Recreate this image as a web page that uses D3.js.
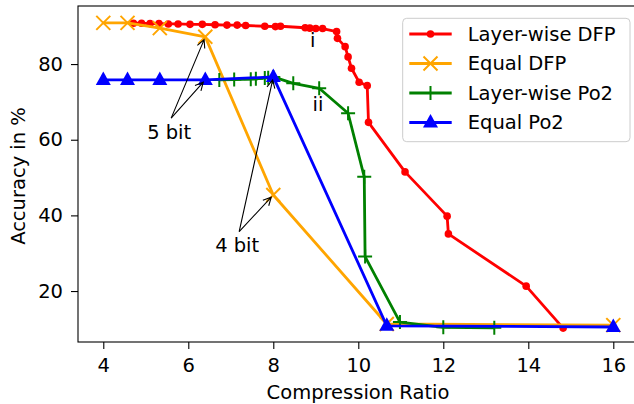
<!DOCTYPE html>
<html>
<head>
<meta charset="utf-8">
<script src="https://cdn.jsdelivr.net/npm/d3@7"></script>
<style>
  body { margin: 0; background: #fff; }
  text { font-family: "DejaVu Sans", sans-serif; fill: #000; }
</style>
</head>
<body>
<div id="chart"></div>
<script>
// compression ratios shared by the "Equal" runs
const equalRatio = [4, 4.57, 5.33, 6.4, 8, 10.67, 16];
const equalDfpAcc = [90.9, 90.9, 89.5, 87.2, 45.4, 11.3, 11.0];
const equalPo2Acc = [75.8, 75.8, 75.8, 75.8, 76.6, 10.8, 10.5];

const layerDfpRatio = [4.71, 4.90, 5.10, 5.31, 5.53, 5.76, 6.04, 6.33, 6.63, 6.91, 7.15, 7.35, 7.80, 8.05, 8.17,
  8.75, 8.86, 9.00, 9.16, 9.49, 9.51, 9.69, 9.76, 9.84, 10.02, 10.21, 10.24, 11.10, 12.09, 12.12, 13.95, 14.82];
const layerDfpAcc = [90.8, 90.8, 90.7, 90.7, 90.6, 90.6, 90.5, 90.5, 90.4, 90.3, 90.3, 90.2, 90.0, 89.9, 90.0,
  89.6, 89.5, 89.4, 89.4, 88.6, 86.8, 84.6, 81.9, 78.9, 75.2, 74.3, 64.6, 51.5, 39.8, 35.1, 21.3, 10.2];

const layerPo2Ratio = [6.73, 7.08, 7.47, 7.59, 7.80, 7.88, 8.0, 8.47, 9.08, 9.76, 10.14, 10.16, 10.98, 12.0, 13.2];
const layerPo2Acc = [75.8, 75.9, 76.0, 76.1, 76.3, 76.4, 76.6, 74.9, 73.6, 67.0, 50.2, 29.1, 11.8, 10.4, 10.3];

const xTicks = [4, 6, 8, 10, 12, 14, 16];
const yTicks = [20, 40, 60, 80];
const seriesNames = ["Layer-wise DFP", "Equal DFP", "Layer-wise Po2", "Equal Po2"];

const fs = 19.5;
const svg = d3.select("#chart").append("svg")
    .attr("width", 634).attr("height", 404);

let x = d3.scaleLinear().domain([3.405, 16.6]).range([78, 638.8]);
let y = d3.scaleLinear().domain([6.53, 95.35]).range([342, 6]);

const zip = (xs, ys) => xs.map((v, i) => [v, ys[i]]);
const series = [
  { name: seriesNames[0], color: "red", marker: "dot", pts: zip(layerDfpRatio, layerDfpAcc) },
  { name: seriesNames[1], color: "orange", marker: "x", pts: zip(equalRatio, equalDfpAcc) },
  { name: seriesNames[2], color: "green", marker: "plus", pts: zip(layerPo2Ratio, layerPo2Acc) },
  { name: seriesNames[3], color: "blue", marker: "tri", pts: zip(equalRatio, equalPo2Acc) }
];

function drawMarker(g, type, color) {
  if (type === "dot") {
    g.append("circle").attr("r", 3.8).attr("fill", color);
  } else if (type === "x") {
    g.append("path").attr("d", "M-7,-7L7,7M-7,7L7,-7")
      .attr("stroke", color).attr("stroke-width", 2).attr("fill", "none");
  } else if (type === "plus") {
    g.append("path").attr("d", "M-7,0L7,0M0,-7L0,7")
      .attr("stroke", color).attr("stroke-width", 2).attr("fill", "none");
  } else {
    g.append("path").attr("d", "M0,-8.5L7.5,5L-7.5,5Z").attr("fill", color);
  }
}

const plot = svg.append("g");
const line = d3.line().x(d => x(d[0])).y(d => y(d[1]));
series.forEach(s => {
  const g = plot.append("g");
  g.append("path").attr("d", line(s.pts))
    .attr("fill", "none").attr("stroke", s.color).attr("stroke-width", 2.8)
    .attr("stroke-linejoin", "round");
  s.pts.forEach(p => {
    drawMarker(g.append("g").attr("transform", `translate(${x(p[0])},${y(p[1])})`), s.marker, s.color);
  });
});

// axes
const xAxis = svg.append("g").attr("transform", "translate(0,342)")
  .call(d3.axisBottom(x).tickValues(xTicks).tickSize(7).tickPadding(9));
const yAxis = svg.append("g").attr("transform", "translate(78,0)")
  .call(d3.axisLeft(y).tickValues(yTicks).tickSize(7).tickPadding(8));
[xAxis, yAxis].forEach(a => {
  a.select(".domain").remove();
  a.selectAll("line").attr("stroke", "#000").attr("stroke-width", 1.1);
  a.selectAll("text").style("font-size", fs + "px").style("font-family", "DejaVu Sans");
});
svg.append("rect").attr("x", 78).attr("y", 6).attr("width", 638.8 - 78).attr("height", 336)
  .attr("fill", "none").attr("stroke", "#000").attr("stroke-width", 1.1);

svg.append("text").attr("x", 358).attr("y", 398.5).attr("text-anchor", "middle")
  .style("font-size", fs + "px").text("Compression Ratio");
svg.append("text").attr("transform", "translate(25,176) rotate(-90)").attr("text-anchor", "middle")
  .style("font-size", fs + "px").text("Accuracy in %");

// annotations
function arrow(x1, y1, x2, y2) {
  const ang = Math.atan2(y2 - y1, x2 - x1);
  const ex = x2 - 3 * Math.cos(ang), ey = y2 - 3 * Math.sin(ang);
  const hl = 8, hw = 4;
  const bx = ex - hl * Math.cos(ang), by = ey - hl * Math.sin(ang);
  const px = -Math.sin(ang) * hw, py = Math.cos(ang) * hw;
  svg.append("path")
    .attr("d", `M${x1},${y1}L${ex},${ey}M${bx + px},${by + py}L${ex},${ey}L${bx - px},${by - py}`)
    .attr("fill", "none").attr("stroke", "#000").attr("stroke-width", 1.1);
}
const notes = [
  { label: "5 bit", at: [5.55, 62.0], targets: [[6.4, equalDfpAcc[3]], [6.4, equalPo2Acc[3]]] },
  { label: "4 bit", at: [7.15, 32.0], targets: [[8, equalPo2Acc[4]], [8, equalDfpAcc[4]]] }
];
notes.forEach(n => {
  const cx = x(n.at[0]), cy = y(n.at[1]);
  svg.append("text").attr("x", cx).attr("y", cy).attr("dy", "0.35em").attr("text-anchor", "middle")
    .style("font-size", fs + "px").text(n.label);
  n.targets.forEach(t => arrow(cx + 2, cy - 14, x(t[0]), y(t[1])));
});
svg.append("text").attr("x", x(8.93)).attr("y", y(86.2)).attr("dy", "0.35em").attr("text-anchor", "middle")
  .style("font-size", fs + "px").text("i");
svg.append("text").attr("x", x(9.05)).attr("y", y(69.5)).attr("dy", "0.35em").attr("text-anchor", "middle")
  .style("font-size", fs + "px").text("ii");

// legend
const leg = svg.append("g").attr("transform", "translate(402.7,18.3)");
leg.append("rect").attr("width", 227.3).attr("height", 123.4).attr("rx", 4)
  .attr("fill", "#fff").attr("fill-opacity", 0.8).attr("stroke", "#cccccc").attr("stroke-width", 1);
series.forEach((s, i) => {
  const ry = 15.7 + i * 29.5;
  leg.append("line").attr("x1", 6.6).attr("x2", 49).attr("y1", ry).attr("y2", ry)
    .attr("stroke", s.color).attr("stroke-width", 2.8);
  drawMarker(leg.append("g").attr("transform", `translate(27.8,${ry})`), s.marker, s.color);
  leg.append("text").attr("x", 65).attr("y", ry).attr("dy", "0.35em")
    .style("font-size", fs + "px").text(s.name);
});
</script>
</body>
</html>
